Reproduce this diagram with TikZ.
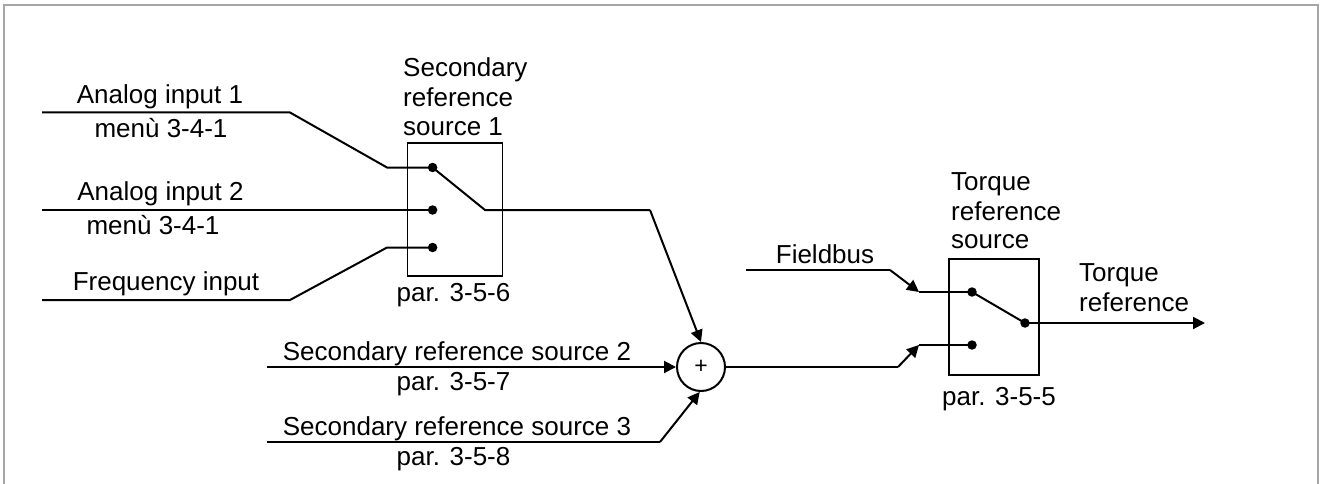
\documentclass[tikz,border=0pt]{standalone}
\usepackage{fontspec}
\setmainfont{Liberation Sans}
\usetikzlibrary{arrows.meta}
\begin{document}
\begin{tikzpicture}[x=1pt,y=-1pt,
  wire/.style={line width=2pt},
  box/.style={draw,line width=1.5pt,inner sep=0pt},
  dot/.style={circle,fill,inner sep=0pt,minimum size=9.5pt},
  lbl/.style={font=\fontsize{26}{29.5}\selectfont,inner sep=0pt},
  arr/.style={wire,-{Triangle[length=12pt,width=12pt]}}]
\useasboundingbox (0,0) rectangle (1321,484);
\draw[line width=1.5pt,gray!70] (4,5) rectangle (1318,500);

% ---------- switch 1 ----------
\node[box,minimum width=95pt,minimum height=133pt] (sw1) at (455,209.5) {};
\node[dot] (a1) at (432.6,167.5) {};
\node[dot] (a2) at (432.6,210) {};
\node[dot] (a3) at (432.6,247.5) {};
\coordinate (s1o) at (485,210);
\coordinate (s1k) at (650,210);

\node[lbl,anchor=base west] (t1a) at (403,76.5) {Secondary};
\node[lbl,anchor=base west] (t1b) at (403,106.5) {reference};
\node[lbl,anchor=base west] (t1c) at (403,135.5) {source 1};
\node[lbl,anchor=base] (p1) at (453.5,301.5) {par. 3-5-6};

% inputs
\coordinate (i1s) at (42,112.5);
\coordinate (i1k) at (290,112.5);
\coordinate (i1j) at (387,167.5);
\coordinate (i2s) at (42,210);
\coordinate (i3s) at (42,300);
\coordinate (i3k) at (290,300);
\coordinate (i3j) at (387,247.5);

\node[lbl,anchor=base] (l1) at (160,103) {Analog input 1};
\node[lbl,anchor=base] (m1) at (161,137.5) {menù 3-4-1};
\node[lbl,anchor=base] (l2) at (160.5,200.5) {Analog input 2};
\node[lbl,anchor=base] (m2) at (153,234) {menù 3-4-1};
\node[lbl,anchor=base] (l3) at (166,290.5) {Frequency input};

\draw[wire] (i1s) -- (i1k) -- (i1j) -- (a1.center);
\draw[wire] (i2s) -- (a2.center);
\draw[wire] (i3s) -- (i3k) -- (i3j) -- (a3.center);
\draw[wire] (a1.center) -- (s1o) -- (s1k);

% ---------- summing junction ----------
\node[circle,draw,line width=2pt,minimum size=48pt,inner sep=0pt,
      font=\fontsize{23}{23}\selectfont] (sum) at (701,367) {+};

\coordinate (r2s) at (267,367);
\coordinate (r3s) at (267,442);
\coordinate (r3k) at (660,442);
\node[lbl,anchor=base] (lr2) at (457,360.5) {Secondary reference source 2};
\node[lbl,anchor=base] (pr2) at (453.5,390.5) {par. 3-5-7};
\node[lbl,anchor=base] (lr3) at (457,435.5) {Secondary reference source 3};
\node[lbl,anchor=base] (pr3) at (453.5,465.5) {par. 3-5-8};

\draw[arr] (s1k) -- (sum.north);
\draw[arr] (r2s) -- (sum.west);
\draw[wire] (r3s) -- (r3k);
\draw[arr] (r3k) -- (sum.-93);

% ---------- switch 2 ----------
\node[box,minimum width=90pt,minimum height=116pt] (sw2) at (994,317) {};
\node[dot] (b1) at (972,292) {};
\node[dot] (b2) at (972,345) {};
\node[dot] (b3) at (1025,323) {};
\coordinate (out) at (1205,323);

\node[lbl,anchor=base west] (t2a) at (951,190.5) {Torque};
\node[lbl,anchor=base west] (t2b) at (951,220.5) {reference};
\node[lbl,anchor=base west] (t2c) at (951,248.5) {source};
\node[lbl,anchor=base] (p2) at (999,405.5) {par. 3-5-5};

\node[lbl,anchor=base] (fb) at (825,263.5) {Fieldbus};
\coordinate (fbs) at (746,270);
\coordinate (fbk) at (890,270);
\coordinate (fbj) at (919,292);
\coordinate (smk) at (898,367);
\coordinate (smj) at (919,345);

\draw[wire] (fbs) -- (fbk);
\draw[arr] (fbk) -- (fbj);
\draw[wire] (fbj) -- (b1.center);
\draw[wire] (sum.east) -- (smk);
\draw[arr] (smk) -- (smj);
\draw[wire] (smj) -- (b2.center);
\draw[wire] (b1.center) -- (b3.center);
\draw[arr] (b3.center) -- (out);

\node[lbl,anchor=base west] (tr1) at (1079,281.5) {Torque};
\node[lbl,anchor=base west] (tr2) at (1079,311.5) {reference};
\end{tikzpicture}
\end{document}
